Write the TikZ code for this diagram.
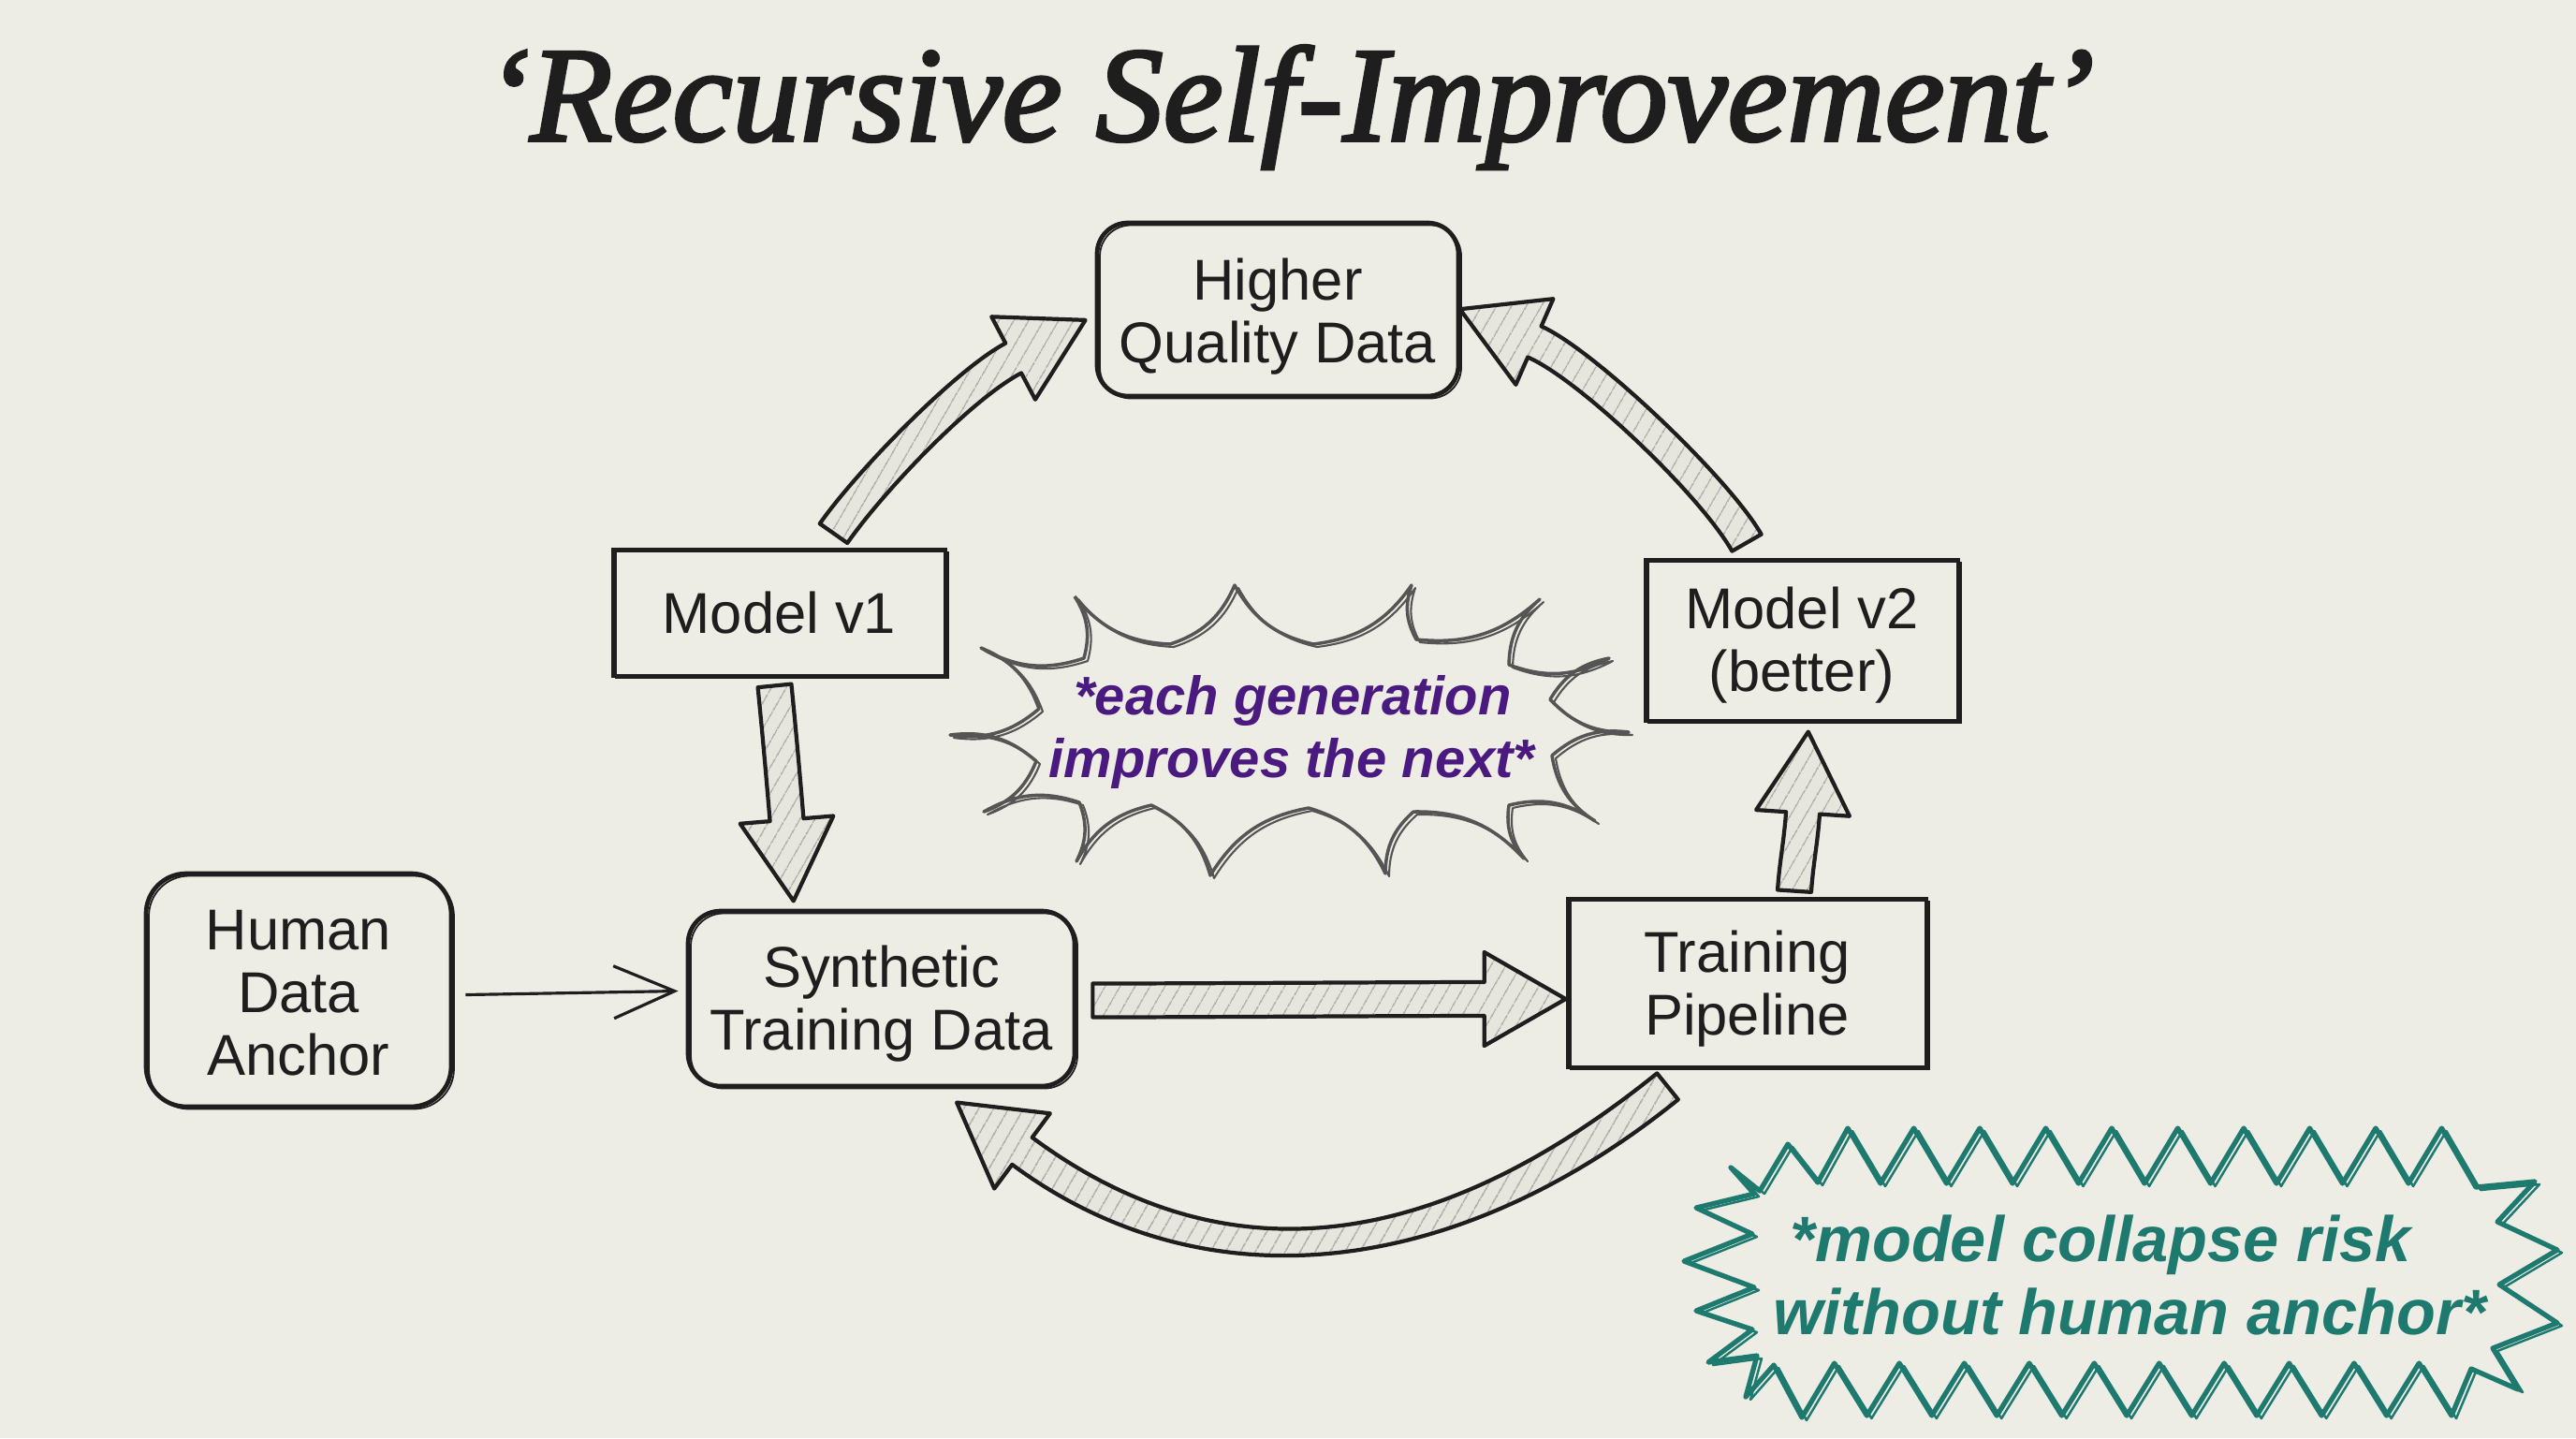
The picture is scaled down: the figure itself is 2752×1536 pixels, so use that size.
\documentclass[tikz,border=0pt]{standalone}
\usepackage{fontspec}
\setmainfont{Liberation Sans}
\newfontfamily\titlefont{Liberation Serif}[ItalicFeatures={FakeBold=2.4}]
\usetikzlibrary{calc,patterns.meta,arrows.meta}
\definecolor{bg}{RGB}{237,236,229}
\definecolor{ink}{RGB}{30,30,30}
\definecolor{arrowfill}{RGB}{230,229,222}
\definecolor{hatch}{RGB}{165,165,160}
\definecolor{burstgray}{RGB}{85,85,85}
\definecolor{purp}{RGB}{74,26,128}
\definecolor{tealc}{RGB}{30,122,110}

\newcommand\tstrut[1]{\rule{0pt}{#1}}

% block arrow: #1 tail, #2 ctrl1, #3 ctrl2, #4 head base
\newcommand\blockarrow[4]{%
  \path[barrow] ($(#1)!1.8mm!90:(#2)$) .. controls ($(#2)!1.8mm!-90:(#1)$) and ($(#3)!1.8mm!90:(#4)$) .. ($(#4)!1.8mm!-90:(#3)$)
    -- ($(#4)!5mm!-90:(#3)$) -- ($(#4)!-8.7mm!(#3)$) -- ($(#4)!5mm!90:(#3)$)
    -- ($(#4)!1.8mm!90:(#3)$) .. controls ($(#3)!1.8mm!-90:(#4)$) and ($(#2)!1.8mm!90:(#1)$) .. ($(#1)!1.8mm!-90:(#2)$) -- cycle;}

\begin{document}
\begin{tikzpicture}[x=0.1mm,y=-0.1mm,
  box/.style={draw=ink, line width=1.35pt, align=center, text=ink, inner sep=0pt,
    font=\fontsize{17.5pt}{19pt}\selectfont,
    postaction={draw=ink, line width=0.5pt, transform canvas={shift={(0.3mm,-0.25mm)}}}},
  rbox/.style={box, rounded corners=3.5mm},
  barrow/.style={draw=ink, line width=1.2pt, line join=round, preaction={fill=arrowfill},
    pattern={Lines[angle=60,distance=4pt,line width=0.45pt]}, pattern color=hatch},
  thinarrow/.style={draw=ink, line width=0.9pt, -{Straight Barb[length=6.5mm,width=5.6mm,line width=0.9pt]}},
  gentext/.style={text=purp, font=\bfseries\itshape\fontsize{16.5pt}{19pt}\selectfont, anchor=base, inner sep=0pt},
  risktext/.style={text=tealc, font=\bfseries\itshape\fontsize{19.5pt}{22pt}\selectfont, anchor=base, inner sep=0pt}
]
\useasboundingbox (0,0) rectangle (2752,1536);
\fill[bg] (0,0) rectangle (2752,1536);

% title
\node[font=\titlefont\itshape\fontsize{41pt}{45pt}\selectfont, text=ink, anchor=base, inner sep=0pt] (title) at (1378,150) {‘Recursive Self-Improvement’};

% boxes
\node[rbox, minimum width=38.6mm, minimum height=18.5mm, rounded corners=3.3mm] (hqd) at (1365,330.5) {\tstrut{5.9mm}Higher\\Quality Data};
\node[box, minimum width=35.5mm, minimum height=13.5mm] (m1) at (832.5,654.5) {Model v1};
\node[box, minimum width=33.4mm, minimum height=17.2mm] (m2) at (1925,684) {\tstrut{5.5mm}Model v2\\(better)};
\node[rbox, minimum width=32.6mm, minimum height=24.9mm, rounded corners=4.3mm] (hum) at (319,1057.5) {\tstrut{4.8mm}Human\\Data\\Anchor};
\node[rbox, minimum width=41.3mm, minimum height=18.7mm] (syn) at (941.5,1066.5) {\tstrut{5.6mm}Synthetic\\Training Data};
\node[box, minimum width=38.3mm, minimum height=18mm] (tp) at (1866.5,1050) {\tstrut{5.6mm}Training\\Pipeline};

% block arrow control points
\coordinate (a1p0) at ($(m1.north)+(58,-15)$);
\coordinate (a1p1) at ($(a1p0)+(40,-57)$);
\coordinate (a1p3) at ($(hqd.west)+(-87,52)$);
\coordinate (a1p2) at ($(a1p3)+(-53,28)$);

\coordinate (a2p0) at ($(m2.north)+(-59,-16)$);
\coordinate (a2p1) at ($(a2p0)+(-35,-61)$);
\coordinate (a2p3) at ($(hqd.east)+(79,34.5)$);
\coordinate (a2p2) at ($(a2p3)+(55,24)$);

\coordinate (a3p0) at ($(m1.south)+(-5,8)$);
\coordinate (a3p1) at ($(a3p0)+(5,50)$);
\coordinate (a3p3) at ($(syn.north)+(-101,-95)$);
\coordinate (a3p2) at ($(a3p3)+(-4,-48)$);

\coordinate (a4p0) at ($(syn.east)+(17,2)$);
\coordinate (a4p1) at ($(a4p0)+(100,0)$);
\coordinate (a4p3) at ($(tp.west)+(-87,17)$);
\coordinate (a4p2) at ($(a4p3)+(-100,0)$);

\coordinate (a5p0) at ($(tp.north)+(50.5,-6)$);
\coordinate (a5p1) at ($(a5p0)+(2,-30)$);
\coordinate (a5p3) at ($(m2.south)+(1,96)$);
\coordinate (a5p2) at ($(a5p3)+(-2,30)$);

\coordinate (a6p0) at ($(tp.south)+(-85,18)$);
\coordinate (a6p1) at ($(a6p0)+(-234,189)$);
\coordinate (a6p3) at ($(syn.south)+(150.5,67)$);
\coordinate (a6p2) at ($(a6p3)+(209,155)$);

\blockarrow{a1p0}{a1p1}{a1p2}{a1p3}
\blockarrow{a2p0}{a2p1}{a2p2}{a2p3}
\blockarrow{a3p0}{a3p1}{a3p2}{a3p3}
\blockarrow{a4p0}{a4p1}{a4p2}{a4p3}
\blockarrow{a5p0}{a5p1}{a5p2}{a5p3}
\blockarrow{a6p0}{a6p1}{a6p2}{a6p3}

% thin arrow human -> synthetic
\draw[thinarrow] ($(hum.east)+(13,5)$) -- ($(syn.west)+(-8,-8)$);

% starburst 1
\foreach \s/\lw in {0/1.0pt,1/0.6pt}{
  \draw[burstgray, line width=\lw, line join=round, shift={(4*\s,3*\s)}] (1148,637)
    \foreach \x/\y in {1250/688,1319/625,1403/688,1508/625,1513/683,1645/640,1612/710,1719/703,1656/747,1740/782,1658/807,1704/877,1612/860,1628/917,1510/867,1480/933,1398/863,1293/935,1230/860,1150/920,1153/857,1051/867,1107/813,1015/785,1110/757,1048/692,1158/703,1148/637}{ to[bend right=24] (\x,\y) };
}
\node[gentext] (gen1) at (1381,763) {*each generation};
\node[gentext] (gen2) at (1380,830) {improves the next*};

% starburst 2 (teal zigzag)
\foreach \s/\lw in {0/1.5pt,1/0.7pt}{
  \draw[tealc, line width=\lw, line join=round, shift={(5*\s,3*\s)}]
    (1849,1247) -- (1880,1272) -- (1910,1222) -- (1942,1263)
    \foreach \k in {0,...,8}{ -- ({1974+70.5*\k},1205) -- ({2009+70.5*\k},1264) }
    -- (2608.5,1205) -- (2645,1268) -- (2708,1262) -- (2668,1305) -- (2732,1335)
    -- (2670,1372) -- (2732,1413) -- (2663,1440) -- (2690,1484) -- (2640,1462)
    \foreach \k in {0,...,9}{ -- ({2619-69.4*\k},1512) -- ({2584.3-69.4*\k},1456) }
    -- (1925,1514) -- (1895,1458) -- (1865,1492) -- (1877,1448) -- (1825,1455)
    -- (1872,1420) -- (1812,1400) -- (1874,1375) -- (1799,1347) -- (1872,1318)
    -- (1812,1290) -- (1874,1275) -- cycle;
}
\node[risktext] (risk1) at (2244,1347) {*model collapse risk};
\node[risktext] (risk2) at (2275,1425) {without human anchor*};
\end{tikzpicture}
\end{document}
